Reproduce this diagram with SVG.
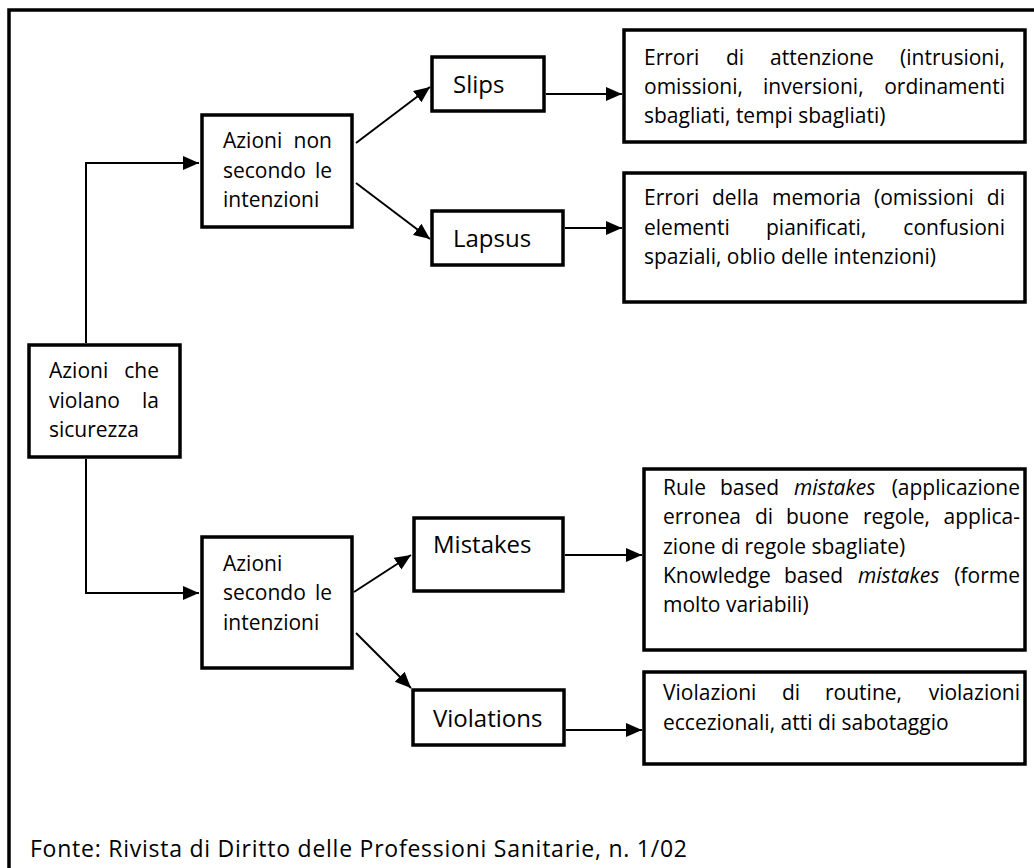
<svg xmlns="http://www.w3.org/2000/svg" width="1034" height="868" viewBox="0 0 1034 868">
<defs>
<style>
.box{fill:#fff;stroke:#000;stroke-width:3.5}
.frame{fill:none;stroke:#000;stroke-width:3.5}
.con{fill:none;stroke:#000;stroke-width:2;marker-end:url(#ah)}
text{font-family:"Open Sans","DejaVu Sans",sans-serif;fill:#000}
.t{font-size:21px}
.lbl{font-size:24px}
.src{font-size:23px}
.it{font-style:italic}
.e{text-anchor:end}
</style>
<marker id="ah" markerUnits="userSpaceOnUse" markerWidth="18" markerHeight="16" refX="16" refY="7" orient="auto">
<path d="M0,0 L16,7 L0,14 z" fill="#000"/>
</marker>
</defs>
<rect class="frame" x="9" y="10" width="1040" height="900"/>

<g id="connectors">
<path class="con" d="M86,343 V163 H199"/>
<path class="con" d="M86,459 V593 H199"/>
<path class="con" d="M356,143 L430,87"/>
<path class="con" d="M356,183 L430,239"/>
<path class="con" d="M546,94 H622"/>
<path class="con" d="M565,228 H622"/>
<path class="con" d="M354,592 L411,555"/>
<path class="con" d="M356,633 L411,688"/>
<path class="con" d="M565,555 H642"/>
<path class="con" d="M566,730 H642"/>
</g>

<g id="node-azioni-violano">
<rect class="box" x="29" y="345" width="151" height="112"/>
<text class="t" x="49" y="378">Azioni</text><text class="t e" x="159" y="378">che</text>
<text class="t" x="49" y="408">violano</text><text class="t e" x="159" y="408">la</text>
<text class="t" x="49" y="437">sicurezza</text>
</g>

<g id="node-azioni-non">
<rect class="box" x="202" y="115" width="150" height="112"/>
<text class="t" x="223" y="148">Azioni</text><text class="t e" x="332" y="148">non</text>
<text class="t" x="223" y="178">secondo</text><text class="t e" x="332" y="178">le</text>
<text class="t" x="223" y="207">intenzioni</text>
</g>

<g id="node-azioni-secondo">
<rect class="box" x="202" y="537" width="150" height="131"/>
<text class="t" x="223" y="571">Azioni</text>
<text class="t" x="223" y="600">secondo</text><text class="t e" x="332" y="600">le</text>
<text class="t" x="223" y="630">intenzioni</text>
</g>

<g id="node-slips">
<rect class="box" x="432" y="57" width="112" height="54"/>
<text class="lbl" x="453" y="93">Slips</text>
</g>

<g id="node-lapsus">
<rect class="box" x="432" y="211" width="131" height="54"/>
<text class="lbl" x="453" y="247">Lapsus</text>
</g>

<g id="node-mistakes">
<rect class="box" x="414" y="518" width="149" height="73"/>
<text class="lbl" x="433" y="553">Mistakes</text>
</g>

<g id="node-violations">
<rect class="box" x="413" y="690" width="151" height="55"/>
<text class="lbl" x="433" y="727">Violations</text>
</g>

<g id="node-errori-attenzione">
<rect class="box" x="624" y="30" width="401" height="112"/>
<text class="t"><tspan x="644" y="65">Errori</tspan><tspan x="726" y="65">di</tspan><tspan x="770" y="65">attenzione</tspan></text><text class="t e" x="1005" y="65">(intrusioni,</text>
<text class="t"><tspan x="644" y="94">omissioni,</tspan><tspan x="763" y="94">inversioni,</tspan></text><text class="t e" x="1005" y="94">ordinamenti</text>
<text class="t" x="644" y="123">sbagliati, tempi sbagliati)</text>
</g>

<g id="node-errori-memoria">
<rect class="box" x="624" y="173" width="401" height="129"/>
<text class="t"><tspan x="644" y="205">Errori</tspan><tspan x="712" y="205">della</tspan><tspan x="772" y="205">memoria</tspan><tspan x="874" y="205">(omissioni</tspan></text><text class="t e" x="1005" y="205">di</text>
<text class="t"><tspan x="644" y="235">elementi</tspan><tspan x="766" y="235">pianificati,</tspan></text><text class="t e" x="1005" y="235">confusioni</text>
<text class="t" x="644" y="264">spaziali, oblio delle intenzioni)</text>
</g>

<g id="node-rule-based">
<rect class="box" x="644" y="469" width="381" height="181"/>
<text class="t"><tspan x="663" y="495">Rule</tspan><tspan x="720" y="495">based</tspan><tspan class="it" x="794" y="495">mistakes</tspan></text><text class="t e" x="1020" y="495">(applicazione</text>
<text class="t"><tspan x="663" y="524">erronea</tspan><tspan x="755" y="524">di</tspan><tspan x="786" y="524">buone</tspan><tspan x="863" y="524">regole,</tspan></text><text class="t e" x="1020" y="524">applica-</text>
<text class="t" x="663" y="554">zione di regole sbagliate)</text>
<text class="t"><tspan x="663" y="583">Knowledge</tspan><tspan x="784" y="583">based</tspan><tspan class="it" x="858" y="583">mistakes</tspan></text><text class="t e" x="1020" y="583">(forme</text>
<text class="t" x="663" y="612">molto variabili)</text>
</g>

<g id="node-violazioni">
<rect class="box" x="644" y="672" width="381" height="92"/>
<text class="t"><tspan x="663" y="700">Violazioni</tspan><tspan x="782" y="700">di</tspan><tspan x="825" y="700">routine,</tspan></text><text class="t e" x="1020" y="700">violazioni</text>
<text class="t" x="663" y="730">eccezionali, atti di sabotaggio</text>
</g>

<g id="source">
<text class="src" x="30" y="857" textLength="657" lengthAdjust="spacing">Fonte: Rivista di Diritto delle Professioni Sanitarie, n. 1/02</text>
</g>
</svg>
